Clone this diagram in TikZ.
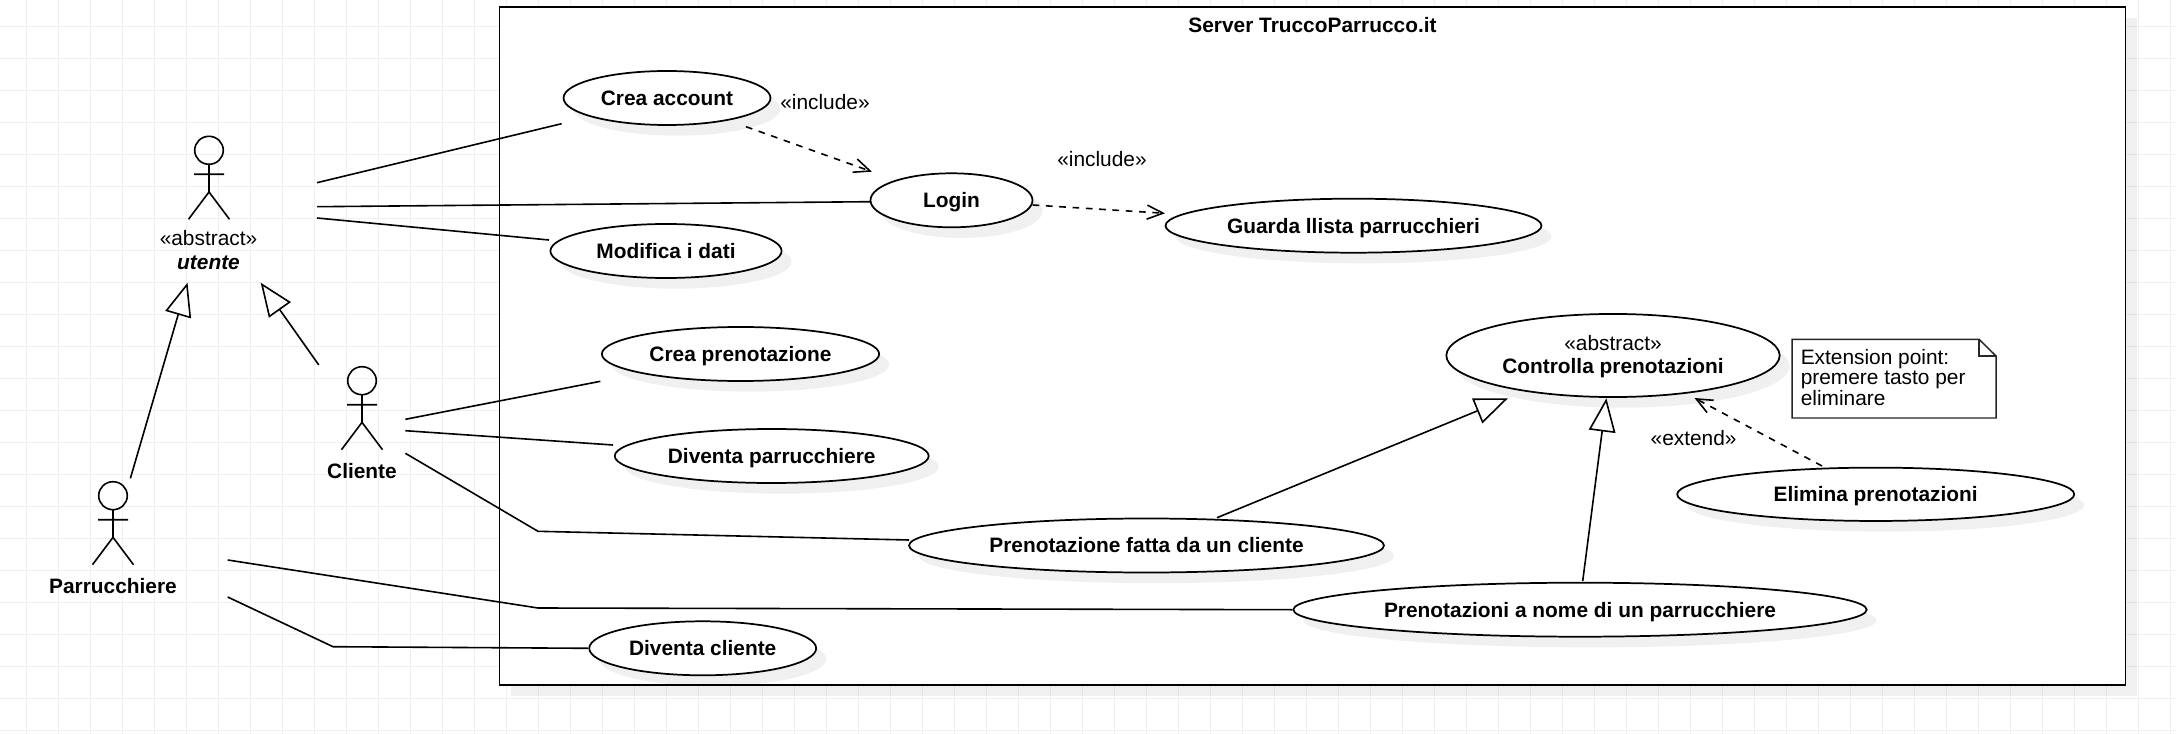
\documentclass[tikz,border=0pt]{standalone}
\usepackage{fontspec}
\setmainfont{Liberation Sans}
\usetikzlibrary{shapes.geometric,arrows.meta,shadows,calc}
\definecolor{gridc}{HTML}{F0F0F0}
\tikzset{
  px/.style={x=0.75pt,y=-0.75pt},
  ucbase/.style={draw=black,line width=1.3pt,fill=white,ellipse,inner sep=0pt,align=center,
    font=\fontsize{15.65}{17.8}\selectfont\bfseries,
    drop shadow={shadow xshift=7.5pt,shadow yshift=-8pt,fill=black,opacity=0.06}},
  usecase/.style={ucbase,text height=11.2pt,text depth=0pt},
  sysbox/.style={draw=black,line width=1.2pt,fill=white,outer sep=0pt,
    drop shadow={shadow xshift=8.5pt,shadow yshift=-8.5pt,fill=black,opacity=0.06}},
  assoc/.style={draw=black,line width=1.2pt},
  general/.style={assoc,-{Triangle[length=25pt,width=20pt,fill=white]}},
  depend/.style={assoc,dash pattern=on 5pt off 5pt,-{Straight Barb[length=12pt,width=10.5pt]}},
  txt/.style={font=\fontsize{15.65}{17.8}\selectfont,inner sep=0pt,align=center},
  boldtxt/.style={txt,font=\fontsize{15.65}{17.8}\selectfont\bfseries},
  limb/.style={draw=black,line width=1.2pt},
  pics/stickman/.style={code={
    \draw[limb] (0,0) ellipse [x radius=14.3,y radius=14];
    \draw[limb] (0,14) -- (0,41.7) (-15,24) -- (15,24) (-20.5,69) -- (0,41.7) -- (20.5,69);
  }}
}
\begin{document}
\begin{tikzpicture}[px]
\useasboundingbox (0,0) rectangle (2176,734);
\fill[white] (0,0) rectangle (2176,734);
% grid
\foreach \k in {0,...,67} \draw[gridc,line width=0.8pt] ({26.3+32*\k},0) -- ({26.3+32*\k},734);
\foreach \k in {0,...,22} \draw[gridc,line width=0.8pt] (0,{26.7+32*\k}) -- (2176,{26.7+32*\k});
% system
\node[sysbox,minimum width=1219.5pt,minimum height=508.5pt,inner sep=0pt,anchor=north west] (sys) at (499.6,6.8) {};
\node[boldtxt] (systitle) at (1312.5,25.5) {Server TruccoParrucco.it};
% actors
\pic at (209,150.3) {stickman};
\pic at (362,380.7) {stickman};
\pic at (113,495.7) {stickman};
\node[txt] (utente) at (208.5,249.8) {«abstract»\\[0.5pt]\textbf{\textit{utente}}\hspace{7pt}};
\node[boldtxt] (cliente) at (362,471.3) {Cliente};
\node[boldtxt] (parr) at (113,586.3) {Parrucchiere};
% use cases
\node[usecase,minimum width=155.2pt,minimum height=40.5pt] (creaacc) at (667,98) {Crea account};
\node[usecase,minimum width=121.5pt,minimum height=40.5pt] (login) at (951.5,200.3) {Login};
\node[usecase,minimum width=282pt,minimum height=40.5pt] (guarda) at (1353.5,225.7) {Guarda llista parrucchieri};
\node[usecase,minimum width=173.4pt,minimum height=40.5pt] (modifica) at (666,251) {Modifica i dati};
\node[usecase,minimum width=208pt,minimum height=40.5pt] (creapren) at (740.5,354) {Crea prenotazione};
\node[usecase,minimum width=235.5pt,minimum height=40.5pt] (divparr) at (771.7,456) {Diventa parrucchiere};
\node[usecase,minimum width=356.2pt,minimum height=40.5pt] (fatta) at (1146.5,545.5) {Prenotazione fatta da un cliente};
\node[usecase,minimum width=430pt,minimum height=40.5pt] (nome) at (1580,609.7) {Prenotazioni a nome di un parrucchiere};
\node[usecase,minimum width=170.2pt,minimum height=40.5pt] (divcli) at (702.7,648.3) {Diventa cliente};
\node[ucbase,minimum width=250pt,minimum height=62.3pt,font=\fontsize{15.65}{17.8}\selectfont] (contr) at (1613,355.5) {\rule{0pt}{12.8pt}«abstract»\\\textbf{Controlla prenotazioni}};
\node[usecase,minimum width=297.8pt,minimum height=40pt] (elimina) at (1875.7,494.3) {Elimina prenotazioni};
% note
\draw[line width=1.1pt,draw=black!85,fill=white] (1792,339.3) -- (1979,339.3) -- (1996,356) -- (1996,418) -- (1792,418) -- cycle;
\draw[line width=1.1pt,draw=black!85] (1979,339.3) -- (1979,356) -- (1996,356);
\node[txt,font=\fontsize{15.65}{15.4}\selectfont,align=left,anchor=north west] (note) at (1800.5,349) {Extension point:\\premere tasto per\\eliminare};
% labels
\node[txt] (inc1) at (825,102) {«include»};
\node[txt] (inc2) at (1102,159.2) {«include»};
\node[txt] (ext) at (1693.6,438.3) {«extend»};
% associations
\draw[assoc] ([shift={(108.5,-67.1)}]utente.center) -- ([shift={(-105.4,25.7)}]creaacc.center);
\draw[assoc] ([shift={(108.5,-43.1)}]utente.center) -- ([shift={(-81,1.4)}]login.center);
\draw[assoc] ([shift={(108.5,-31.8)}]utente.center) -- ([shift={(-117,-11)}]modifica.center);
\draw[assoc] ([shift={(43.4,-52)}]cliente.center) -- ([shift={(-140.1,27.3)}]creapren.center);
\draw[assoc] ([shift={(43.4,-40.6)}]cliente.center) -- ([shift={(-158.7,-11)}]divparr.center);
\draw[assoc] ([shift={(43.4,-18)}]cliente.center) -- ([shift={(176,60)}]cliente.center) -- ([shift={(-237.5,-5.5)}]fatta.center);
\draw[assoc] ([shift={(114.7,-26.3)}]parr.center) -- ([shift={(425,21.7)}]parr.center) -- (nome.west);
\draw[assoc] ([shift={(114.7,10.7)}]parr.center) -- ([shift={(220,60.4)}]parr.center) -- (divcli.west);
% generalisations
\draw[general] ([shift={(-43.2,-106.3)}]cliente.center) -- ([shift={(52.2,32.9)}]utente.center);
\draw[general] ([shift={(17.4,-108)}]parr.center) -- ([shift={(-21,32.9)}]utente.center);
\draw[general] ([shift={(70.5,-27.8)}]fatta.center) -- ([shift={(-105,42.8)}]contr.center);
\draw[general] ([shift={(2.7,-28.7)}]nome.center) -- ([shift={(-6.6,42.8)}]contr.center);
% dependencies
\draw[depend] ([shift={(79,28.7)}]creaacc.center) -- ([shift={(-79.6,-28.6)}]login.center);
\draw[depend] ([shift={(81.1,4.7)}]login.center) -- ([shift={(-188.5,-12.4)}]guarda.center);
\draw[depend] ([shift={(-53.7,-28.3)}]elimina.center) -- ([shift={(81.5,42.5)}]contr.center);
\end{tikzpicture}
\end{document}
